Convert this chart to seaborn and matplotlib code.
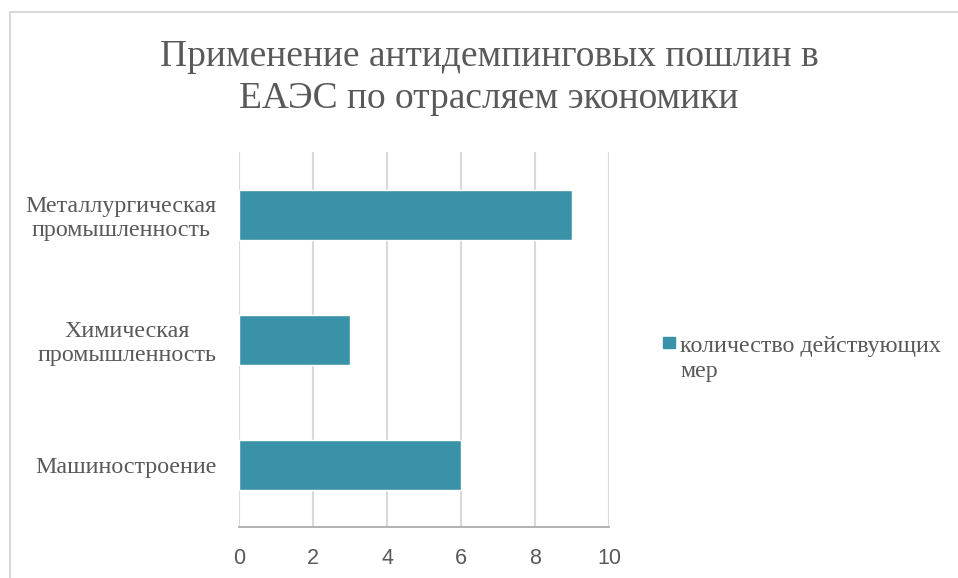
import matplotlib
matplotlib.use('Agg')
import matplotlib.pyplot as plt
import matplotlib.patches as mpatches
import seaborn as sns
import pandas as pd

# data
categories = ['Металлургическая\nпромышленность', 'Химическая\nпромышленность', 'Машиностроение']
values = [9, 3, 6]
series_name = 'количество действующих\nмер'
x_ticks = [0, 2, 4, 6, 8, 10]
title = 'Применение антидемпинговых пошлин в\nЕАЭС по отрасляем экономики'

BAR_COLOR = '#3A92A8'
TEXT_COLOR = '#595959'
GRID_COLOR = '#d9d9d9'

sns.set_theme(style='white')
plt.rcParams['font.family'] = ['Liberation Serif', 'DejaVu Serif']

df = pd.DataFrame({'category': categories, 'value': values})

fig = plt.figure(figsize=(9.58, 5.78), dpi=100)
ax = fig.add_axes([239 / 958, 1 - 527 / 578, 370 / 958, 375 / 578])

sns.barplot(data=df, x='value', y='category', order=categories, color=BAR_COLOR,
            width=0.4, saturation=1, ax=ax)

ax.set_xlim(0, 10)
ax.set_ylim(2.5, -0.5)
ax.set_xticks(x_ticks)
ax.set_xlabel('')
ax.set_ylabel('')
ax.grid(axis='x', color=GRID_COLOR, linewidth=1.5)
ax.grid(axis='y', visible=False)
ax.set_axisbelow(True)
for s in ['top', 'right', 'left']:
    ax.spines[s].set_visible(False)
ax.spines['bottom'].set_color('#a6a6a6')
ax.spines['bottom'].set_linewidth(1.2)

ax.tick_params(axis='x', length=0, pad=15, labelsize=15.5, labelcolor=TEXT_COLOR)
for lbl in ax.get_xticklabels():
    lbl.set_fontfamily(['Liberation Sans', 'DejaVu Sans'])
ax.tick_params(axis='y', length=0, pad=16, labelsize=17.3, labelcolor=TEXT_COLOR)
for lbl in ax.get_yticklabels():
    lbl.set_multialignment('center')
    lbl.set_linespacing(1.16)

fig.text(489 / 958, 1 - 78 / 578, title, ha='center', va='center', fontsize=27,
         color=TEXT_COLOR, linespacing=1.27)

# legend (handle square aligned with the first line of the label)
fig.patches.append(mpatches.Rectangle((663 / 958, 1 - 348 / 578), 12 / 958, 11 / 578,
                                      transform=fig.transFigure, color=BAR_COLOR))
fig.text(680 / 958, 1 - 336 / 578, series_name, ha='left', va='top', fontsize=17.3,
         color=TEXT_COLOR, linespacing=1.22)

# chart border
border = mpatches.Rectangle((10 / 958, -0.1), 1.2, 1 - 12.5 / 578 + 0.1,
                            transform=fig.transFigure, fill=False,
                            edgecolor=GRID_COLOR, linewidth=1.5)
fig.patches.append(border)

fig.savefig('out.png', dpi=100)
